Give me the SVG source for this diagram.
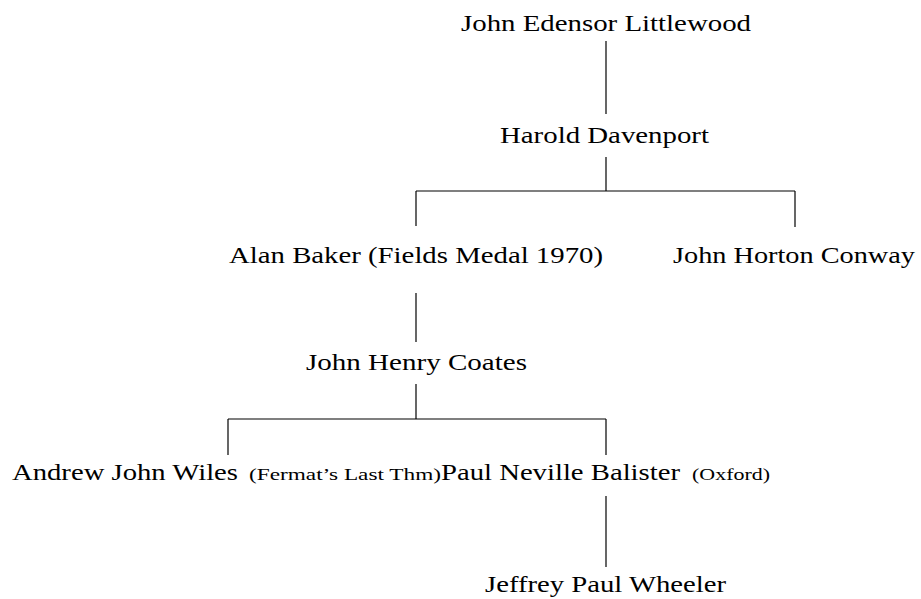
<svg xmlns="http://www.w3.org/2000/svg" width="921" height="599" viewBox="0 0 921 599">
<style>
text{font-family:"Liberation Serif","DejaVu Serif",serif;font-size:24px;fill:#000}
.s{font-size:17px}
.c line{stroke:#000;stroke-width:1.2}
</style>
<rect width="921" height="599" fill="#fff"/>
<g class="c" id="connectors">
<line x1="606" y1="41" x2="606" y2="114"/>
<line x1="606" y1="157" x2="606" y2="191"/>
<line x1="416" y1="191" x2="795" y2="191"/>
<line x1="416" y1="191" x2="416" y2="226"/>
<line x1="795" y1="191" x2="795" y2="227"/>
<line x1="416" y1="293" x2="416" y2="342"/>
<line x1="416" y1="384" x2="416" y2="419"/>
<line x1="228" y1="419" x2="606" y2="419"/>
<line x1="228" y1="419" x2="228" y2="455"/>
<line x1="606" y1="419" x2="606" y2="455"/>
<line x1="606" y1="496" x2="606" y2="567"/>
</g>
<g id="littlewood"><text x="461" y="31" textLength="290" lengthAdjust="spacingAndGlyphs">John Edensor Littlewood</text></g>
<g id="davenport"><text x="500" y="143" textLength="209" lengthAdjust="spacingAndGlyphs">Harold Davenport</text></g>
<g id="baker"><text x="229" y="263" textLength="374" lengthAdjust="spacingAndGlyphs">Alan Baker (Fields Medal 1970)</text></g>
<g id="conway"><text x="673" y="263" textLength="242" lengthAdjust="spacingAndGlyphs">John Horton Conway</text></g>
<g id="coates"><text x="306" y="370" textLength="221" lengthAdjust="spacingAndGlyphs">John Henry Coates</text></g>
<g id="wiles"><text x="12" y="480" textLength="226" lengthAdjust="spacingAndGlyphs">Andrew John Wiles</text><text class="s" x="249" y="480" textLength="192" lengthAdjust="spacingAndGlyphs">(Fermat’s Last Thm)</text></g>
<g id="balister"><text x="441" y="480" textLength="239" lengthAdjust="spacingAndGlyphs">Paul Neville Balister</text><text class="s" x="692" y="480" textLength="78" lengthAdjust="spacingAndGlyphs">(Oxford)</text></g>
<g id="wheeler"><text x="485" y="592" textLength="241" lengthAdjust="spacingAndGlyphs">Jeffrey Paul Wheeler</text></g>
</svg>
